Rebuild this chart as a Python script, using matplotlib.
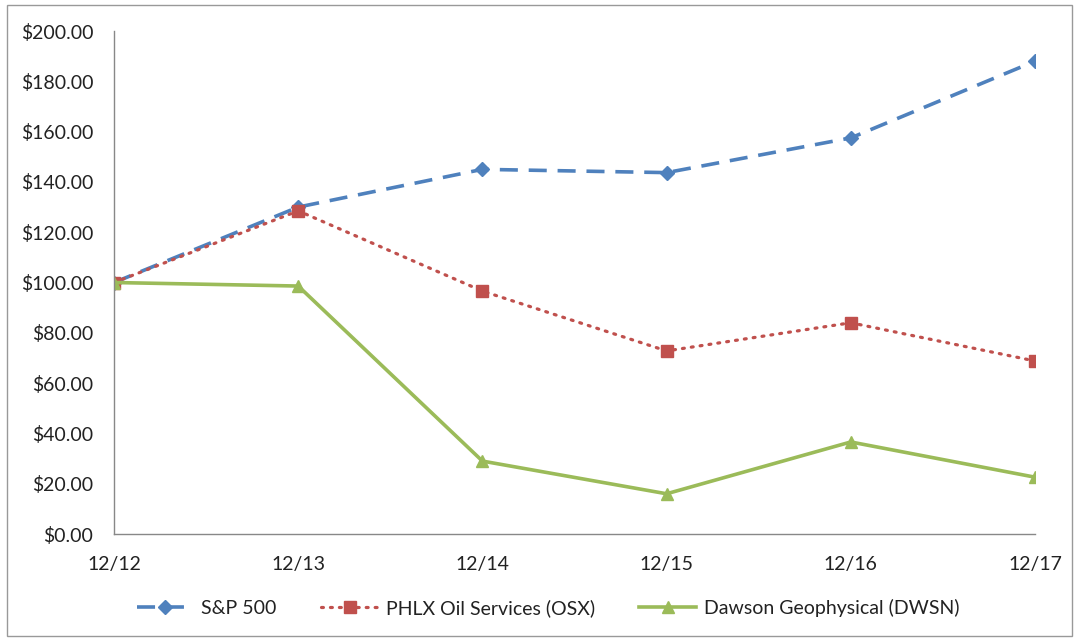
import matplotlib.pyplot as plt
from matplotlib.patches import Rectangle

periods = ['12/12', '12/13', '12/14', '12/15', '12/16', '12/17']
sp500 = [100.0, 130.0, 145.0, 143.7, 157.5, 188.0]
osx = [100.0, 128.5, 96.6, 72.8, 84.0, 68.8]
dwsn = [100.0, 98.6, 29.0, 16.0, 36.6, 22.6]

plt.rcParams['font.family'] = ['Lato', 'DejaVu Sans']

fig = plt.figure(figsize=(10.79, 6.41), dpi=100)
ax = fig.add_axes([0.1057, 0.1669, 0.8535, 0.7847])

x = range(len(periods))
ax.plot(x, sp500, color='#4F81BD', lw=2.6, ls=(0, (5, 3)), marker='D',
        ms=7, label='S&P 500')
ax.plot(x, osx, color='#C0504D', lw=2.3, ls=(0, (0.6, 2.2)), dash_capstyle='round',
        marker='s', ms=8, label='PHLX Oil Services (OSX)')
ax.plot(x, dwsn, color='#9BBB59', lw=2.6, marker='^', ms=9,
        label='Dawson Geophysical (DWSN)')

ax.set_xlim(0, 5)
ax.set_ylim(0, 200)
ax.set_yticks(range(0, 201, 20))
ax.set_yticklabels([f'${v:.2f}' for v in range(0, 201, 20)])
ax.set_xticks(list(x))
ax.set_xticklabels(periods)
ax.tick_params(length=0, labelsize=14, colors='#222222')
ax.tick_params(axis='y', pad=15)
ax.tick_params(axis='x', pad=16)

for s in ['top', 'right']:
    ax.spines[s].set_visible(False)
for s in ['left', 'bottom']:
    ax.spines[s].set_color('#888888')
    ax.spines[s].set_linewidth(1)

leg = fig.legend(loc='center', bbox_to_anchor=(0.508, 0.0515), ncol=3, frameon=False,
                 fontsize=14, handlelength=2.9, columnspacing=2.3, handletextpad=0.4)
for t in leg.get_texts():
    t.set_color('#222222')

fig.patches.append(Rectangle((0.0065, 0.008), 0.987, 0.984, transform=fig.transFigure,
                             fill=False, edgecolor='#999999', lw=1))

fig.savefig('out.png', dpi=100)
